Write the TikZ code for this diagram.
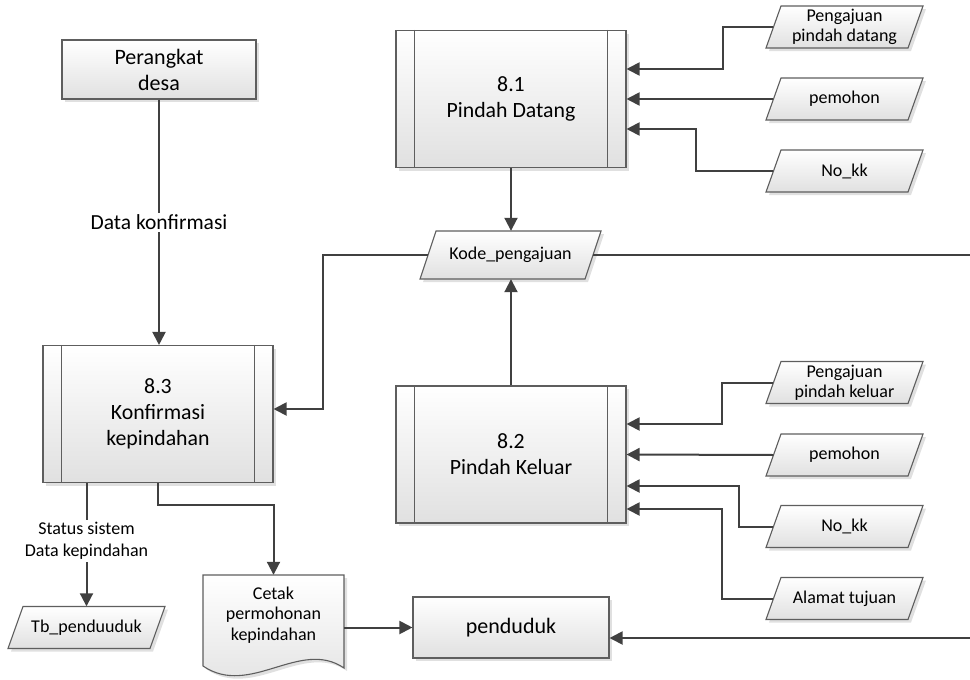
\documentclass[tikz,border=0pt]{standalone}
\usepackage{fontspec}
\setmainfont{Carlito}
\usetikzlibrary{arrows.meta,shadows}

\definecolor{flowgray}{HTML}{404040}
\definecolor{edgegray}{HTML}{5E5E5E}

\tikzset{
  shaded box/.style={draw=edgegray, line width=1.1pt, top color=white, bottom color=black!12,
    drop shadow={shadow xshift=3pt, shadow yshift=-3pt, fill=black, opacity=0.12}},
  process/.style={shaded box, minimum width=230pt, minimum height=137pt, inner sep=0pt,
    align=center, font=\fontsize{21.8}{26}\selectfont},
  entity/.style={shaded box, inner sep=0pt, align=center, font=\fontsize{22}{26}\selectfont},
  iolabel/.style={inner sep=0pt, minimum width=142pt, minimum height=42pt, align=center,
    font=\fontsize{18}{20}\selectfont},
  flow/.style={draw=flowgray, line width=2pt, -{Triangle[length=13pt,width=13pt]}},
  flowline/.style={draw=flowgray, line width=2pt},
  flowlabel/.style={fill=white, inner sep=2pt, align=center},
}

% input/output parallelogram: name, centre x, centre y, text
\newcommand\iobox[4]{%
  \path[shaded box] (#2-78.5,#3+21) -- (#2-63.5,#3-21) -- (#2+78.5,#3-21) -- (#2+63.5,#3+21) -- cycle;
  \node[iolabel] (#1) at (#2,#3) {#4};
}

\begin{document}
\begin{tikzpicture}[x=1pt,y=-1pt]
\useasboundingbox (0,0) rectangle (970,680);

% processes
\node[process] (p1) at (511,99) {8.1\\Pindah Datang};
\node[process] (p2) at (511,454.5) {8.2\\Pindah Keluar};
\node[process] (p3) at (158,414) {8.3\\Konfirmasi\\kepindahan};
\foreach \pname in {p1,p2,p3}{
  \draw[edgegray, line width=1.1pt]
    ([xshift=19pt]\pname.north west) -- ([xshift=19pt]\pname.south west)
    ([xshift=-19pt]\pname.north east) -- ([xshift=-19pt]\pname.south east);
}

% external entities
\node[entity, minimum width=194pt, minimum height=59pt] (desa) at (159,69.5) {Perangkat\\desa};
\node[entity, minimum width=196pt, minimum height=61pt] (pend) at (511,627.5) {penduduk};

% data inputs
\iobox{di1}{844.5}{27}{Pengajuan\\pindah datang}
\iobox{di2}{844.5}{99}{pemohon}
\iobox{di3}{844.5}{171}{No\_kk}
\iobox{do1}{844.5}{382.5}{Pengajuan\\pindah keluar}
\iobox{do2}{844.5}{455}{pemohon}
\iobox{do3}{844.5}{526.5}{No\_kk}
\iobox{do4}{844.5}{598.5}{Alamat tujuan}
\iobox{tb}{86.5}{627.5}{Tb\_penduuduk}

% shared code
\path[shaded box] (420,279) -- (436,231) -- (601,231) -- (585,279) -- cycle;
\node[iolabel, minimum width=165pt, minimum height=48pt] (kode) at (510.5,255) {Kode\_pengajuan};

% printed document
\path[shaded box] (203,575) -- (344,575) -- (344,668) .. controls (300,638) and (250,698) .. (203,666) -- cycle;
\node[inner sep=0pt, minimum width=141pt, minimum height=80pt, align=center,
  font=\fontsize{18}{20.5}\selectfont] (cetak) at (273.5,615) {Cetak\\permohonan\\kepindahan};

% flows
\draw[flow] (desa.south) -- node[flowlabel, font=\fontsize{21.5}{25}\selectfont] {Data konfirmasi} (desa.south |- p3.north);
\draw[flow] (p1.south) -- (p1.south |- kode.north);
\draw[flow] (p2.north) -- (p2.north |- kode.south);
\coordinate (kbend) at (323,409);
\draw[flow] (kode.west) -| (kbend) -- (p3.east |- kbend);
\coordinate (edgeA) at (972,255);
\draw[flowline] (kode.east) -- (edgeA);
\coordinate (edgeB) at (972,638);
\draw[flow] (edgeB) -- (edgeB -| pend.east);
\draw[flow] ([yshift=-12.5pt]cetak.east) -- (pend.west);

\draw[flow] (tb.north |- p3.south) -- node[flowlabel, font=\fontsize{18}{22}\selectfont, pos=0.47]
  {Status sistem\\Data kepindahan} (tb.north);
\draw[flow] (p3.south) -- ++(0,22) -| (cetak.north);

\draw[flow] (di1.west) -| ([xshift=96pt,yshift=30pt]p1.east) -- ([yshift=30pt]p1.east);
\draw[flow] (di2.west) -- (p1.east);
\draw[flow] (di3.west) -| ([xshift=69pt,yshift=-30pt]p1.east) -- ([yshift=-30pt]p1.east);

\draw[flow] (do1.west) -| ([xshift=95pt,yshift=30.5pt]p2.east) -- ([yshift=30.5pt]p2.east);
\draw[flow] (do2.west) -- (p2.east);
\draw[flow] (do3.west) -| ([xshift=112pt,yshift=-31.5pt]p2.east) -- ([yshift=-31.5pt]p2.east);
\draw[flow] (do4.west) -| ([xshift=95pt,yshift=-54.5pt]p2.east) -- ([yshift=-54.5pt]p2.east);
\end{tikzpicture}
\end{document}
